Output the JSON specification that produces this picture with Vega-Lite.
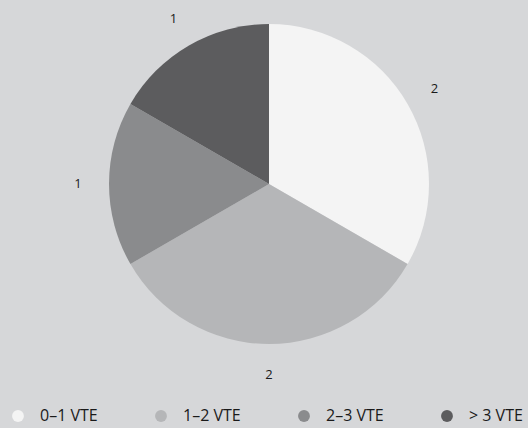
{
  "$schema": "https://vega.github.io/schema/vega-lite/v6.json",
  "width": 538,
  "height": 368,
  "autosize": {"type": "none"},
  "padding": {"left": 0, "top": 0, "right": 0, "bottom": 60},
  "background": "#d6d7d9",
  "config": {"view": {"stroke": null}, "font": "Open Sans"},
  "data": {
    "values": [
      {"cat": "0–1 VTE", "n": 2, "o": 1},
      {"cat": "1–2 VTE", "n": 2, "o": 2},
      {"cat": "2–3 VTE", "n": 1, "o": 3},
      {"cat": "> 3 VTE", "n": 1, "o": 4}
    ]
  },
  "encoding": {
    "theta": {"field": "n", "type": "quantitative", "stack": true},
    "order": {"field": "o", "type": "quantitative"},
    "color": {
      "field": "cat",
      "type": "nominal",
      "sort": ["0–1 VTE", "1–2 VTE", "2–3 VTE", "> 3 VTE"],
      "scale": {"domain": ["0–1 VTE", "1–2 VTE", "2–3 VTE", "> 3 VTE"], "range": ["#f4f4f4", "#b5b6b8", "#8a8b8d", "#5c5c5e"]},
      "legend": {
        "orient": "none",
        "legendX": 10,
        "legendY": 408,
        "direction": "horizontal",
        "title": null,
        "symbolType": "circle",
        "symbolSize": 140,
        "symbolStrokeWidth": 0,
        "labelFontSize": 16,
        "labelFont": "Open Sans",
        "labelColor": "#1a1a1a",
        "labelOffset": 14,
        "columnPadding": 55
      }
    }
  },
  "layer": [
    {"mark": {"type": "arc", "outerRadius": 160}},
    {
      "mark": {"type": "text", "radius": 191, "fontSize": 13},
      "encoding": {"text": {"field": "n", "type": "quantitative"}, "color": {"value": "#1a1a1a"}}
    }
  ]
}
